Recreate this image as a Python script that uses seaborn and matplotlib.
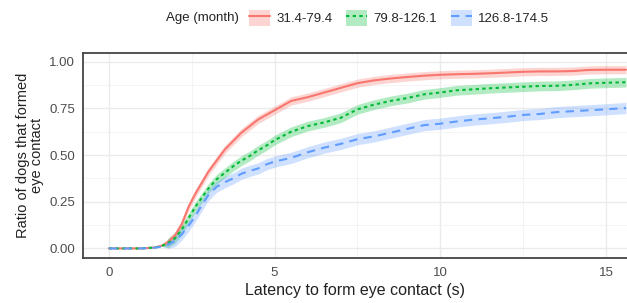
import numpy as np
import pandas as pd
import matplotlib
matplotlib.use("Agg")
import matplotlib.pyplot as plt
import seaborn as sns
from matplotlib.patches import Patch
from matplotlib.lines import Line2D
from matplotlib.legend_handler import HandlerTuple

groups = ["31.4-79.4", "79.8-126.1", "126.8-174.5"]
colors = ["#F8766D", "#00BA38", "#619CFF"]

latency = [0, 1.0, 1.4, 1.6, 1.8, 2.0, 2.2, 2.4, 2.6, 2.8, 3.0, 3.25, 3.5, 3.75, 4.0, 4.25,
           4.5, 4.75, 5.0, 5.5, 6.0, 6.5, 7.0, 7.5, 8.0, 8.5, 9.0, 9.5, 10.0, 10.5, 11.0, 11.5,
           12.0, 12.5, 13.0, 13.5, 14.0, 14.5, 15.0, 15.6]

ratio_young = [0, 0, 0.005, 0.015, 0.035, 0.07, 0.13, 0.22, 0.29, 0.35, 0.41, 0.47, 0.53, 0.575,
               0.62, 0.655, 0.69, 0.715, 0.74, 0.79, 0.81, 0.835, 0.86, 0.885, 0.90, 0.91, 0.918,
               0.925, 0.93, 0.933, 0.935, 0.938, 0.942, 0.946, 0.948, 0.948, 0.95, 0.956, 0.957, 0.957]
ratio_middle = [0, 0, 0.005, 0.013, 0.03, 0.055, 0.10, 0.16, 0.22, 0.27, 0.32, 0.37, 0.405, 0.44,
                0.47, 0.495, 0.525, 0.55, 0.58, 0.625, 0.655, 0.675, 0.70, 0.745, 0.77, 0.79, 0.805,
                0.825, 0.835, 0.847, 0.852, 0.858, 0.862, 0.866, 0.87, 0.871, 0.876, 0.884, 0.887, 0.89]
ratio_old = [0, 0, 0.004, 0.01, 0.022, 0.04, 0.075, 0.12, 0.17, 0.23, 0.285, 0.33, 0.355, 0.375,
             0.40, 0.415, 0.428, 0.45, 0.465, 0.485, 0.515, 0.54, 0.56, 0.585, 0.60, 0.62, 0.64,
             0.66, 0.668, 0.68, 0.69, 0.697, 0.705, 0.715, 0.72, 0.73, 0.735, 0.74, 0.745, 0.752]

# half-width of the confidence band for each group
band_young = 0.022
band_middle = 0.026
band_old = 0.03

series = [ratio_young, ratio_middle, ratio_old]
bands = [band_young, band_middle, band_old]
dashes = ["-", (0, (1.6, 1.6)), (0, (4, 3))]

df = pd.concat([pd.DataFrame({"Latency": latency, "Ratio": s, "Age": g})
                for s, g in zip(series, groups)], ignore_index=True)

sns.set_theme(style="whitegrid")
plt.rcParams["font.family"] = ["Liberation Sans", "DejaVu Sans"]

fig = plt.figure(figsize=(6.27, 3.03), dpi=100)
ax = fig.add_axes([83.3 / 627, 1 - 258.3 / 303, 1 - 83.3 / 627, (258.3 - 53.3) / 303])

for g, c, b, ls in zip(groups, colors, bands, dashes):
    d = df[df["Age"] == g]
    w = b * (d["Ratio"] > 0.02)
    ax.fill_between(d["Latency"], np.clip(d["Ratio"] - w, 0, 1), np.clip(d["Ratio"] + w, 0, 1),
                    color=c, alpha=0.3, lw=0)
    sns.lineplot(data=d, x="Latency", y="Ratio", ax=ax, color=c, lw=1.5, ls=ls, legend=False)

ax.set_xlim(-0.77, 15.63)
ax.set_ylim(-0.053, 1.045)
ax.set_xticks([0, 5, 10, 15])
ax.set_yticks([0, 0.25, 0.5, 0.75, 1.0])
ax.set_yticklabels(["0.00", "0.25", "0.50", "0.75", "1.00"])
ax.set_xticks([2.5, 7.5, 12.5], minor=True)
ax.set_yticks([0.125, 0.375, 0.625, 0.875], minor=True)
ax.grid(which="major", color="#EBEBEB", lw=1.0)
ax.grid(which="minor", color="#F2F2F2", lw=0.6)
ax.set_facecolor("white")
for side in ["left", "bottom", "top"]:
    ax.spines[side].set_color("#444444")
    ax.spines[side].set_linewidth(1.3)
ax.spines["right"].set_visible(False)
ax.tick_params(axis="both", which="major", length=3, width=1, color="#333333",
               labelsize=9.5, labelcolor="#4D4D4D", pad=3)
ax.tick_params(which="minor", length=0)
ax.set_xlabel("Latency to form eye contact (s)", fontsize=11.5, color="#222222", labelpad=3)
ax.set_ylabel("Ratio of dogs that formed\neye contact", fontsize=10.5, color="#222222",
              labelpad=4, linespacing=1.0)

handles = [(Patch(facecolor=c, alpha=0.3, lw=0), Line2D([], [], color=c, lw=1.5, ls=ls))
           for c, ls in zip(colors, dashes)]
fig.text(166 / 627, 1 - 18 / 303, "Age (month)", fontsize=9.5, color="#222222", va="center")
fig.legend(handles, groups, handler_map={tuple: HandlerTuple(ndivide=1, pad=0)},
           loc="center left", bbox_to_anchor=(249 / 627, 1 - 18 / 303), ncol=3, frameon=False,
           fontsize=9.5, handlelength=1.6, handleheight=1.5, handletextpad=0.5,
           columnspacing=1.0, borderpad=0, borderaxespad=0)

fig.savefig("out.png", dpi=100)
